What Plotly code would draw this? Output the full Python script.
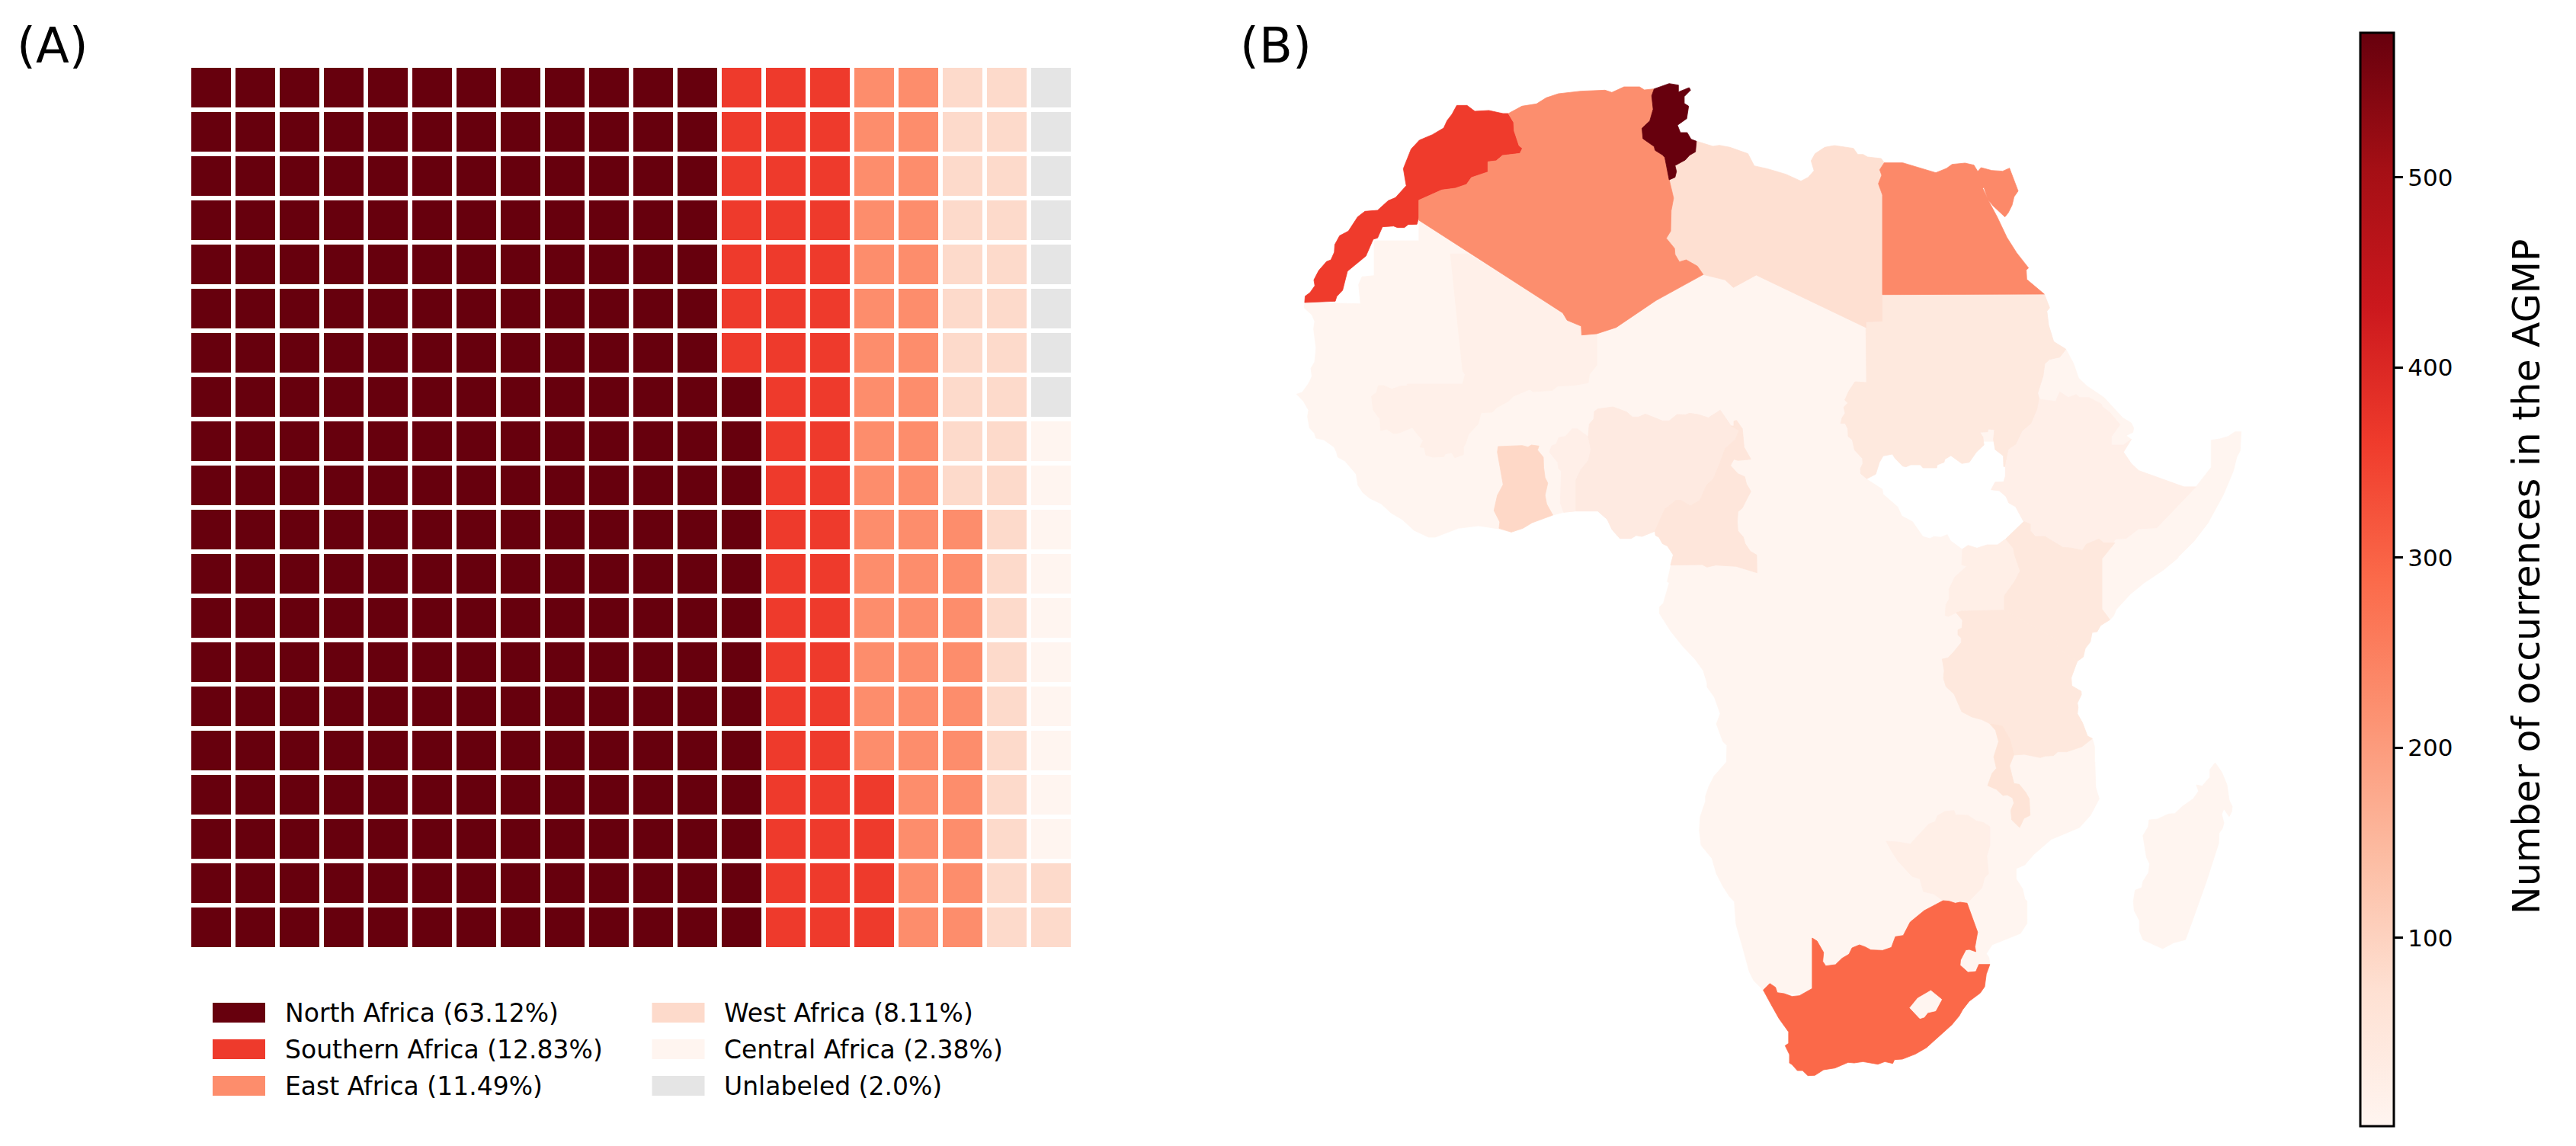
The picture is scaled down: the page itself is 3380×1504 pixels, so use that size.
import plotly.graph_objects as go
from plotly.colors import sequential, sample_colorscale

# ---------- waffle data ----------
REGIONS = ["North Africa", "Southern Africa", "East Africa", "West Africa", "Central Africa", "Unlabeled"]
REGION_SHARES = ["63.12%", "12.83%", "11.49%", "8.11%", "2.38%", "2.0%"]
REGION_CELLS = [253, 51, 46, 32, 10, 8]
REGION_COLORS = ["#67000d", "#ee3a2c", "#fd8d6c", "#fddacb", "#fff5f0", "#e5e5e5"]
GRID_SIZE = 20

FRAMES = {
    "Z1": (1650, 60, 1.568, 3), "Z2": (1650, 500, 1.568, 3), "Z3": (2100, 950, 1.742, 3),
    "Z7": (1650, 380, 2.24, 3), "Z8": (2350, 380, 2.24, 3), "Z9": (2450, 680, 3, 3), "Z10": (2430, 170, 3, 3),
}
def read(frame, pts):
    x0, y0, fx, fy = FRAMES[frame]
    return [(x0 + a / fx, y0 + b / fy) for a, b in pts]

TUNISIA = read("Z1", [(816,170),(847,149),(866,155),(866,182),(888,165),(891,175),(878,200),(878,227),(887,238),(883,287),(864,313),(870,342),(884,342),(892,368),(903,376),(901,418),(889,431),(880,450),(859,472),(862,495),(859,518),(847,528),(838,440),(833,430),(818,412),(816,397),(793,366),(791,325),(807,296),(814,250),(811,197)])
MOROCCO = read("Z1", [(410,235),(431,235),(447,258),(476,255),(505,267),(516,267),(527,302),(528,335),(538,393),(545,404),(540,424),(504,432),(491,453),(474,457),(474,497),(440,519),(430,546),(407,561),(379,568),(332,608),(332,675),(328,703),(310,704),(302,716),(288,716),(280,710),(257,713),(247,757),(238,762),(223,828),(185,888),(175,963),(163,987),(160,1006),(97,1011),(98,986),(108,972),(118,945),(116,922),(126,885),(142,850),(151,843),(158,813),(159,783),(169,748),(187,730),(206,674),(221,652),(247,648),(269,610),(284,598),(306,551),(300,484),(308,447),(316,407),(333,372),(360,350),(383,324),(390,295),(400,270)])
ALGERIA = read("Z1", [(516,267),(544,238),(574,229),(594,205),(619,189),(665,179),(715,175),(729,184),(754,162),(786,162),(796,174),(816,170),(811,197),(814,250),(807,296),(791,325),(793,366),(816,397),(818,412),(833,430),(838,440),(847,528),(856,600),(851,650),(850,730),(841,758),(858,798),(859,822),(868,851),(882,843),(905,868),(917,901),(820,1003),(738,1109),(698,1134),(667,1139),(666,1104),(637,1081),(628,1052),(332,687),(332,608),(379,568),(407,561),(430,546),(440,519),(474,497),(474,457),(491,453),(504,432),(540,424),(545,404),(538,393),(528,335),(527,302)])
LIBYA = read("Z1", [(903,376),(937,396),(950,392),(972,400),(1009,425),(1022,473),(1050,485),(1087,506),(1118,533),(1133,518),(1145,492),(1139,453),(1147,425),(1167,400),(1187,393),(1226,404),(1235,428),(1246,428),(1255,438),(1283,444),(1290,462),(1279,488),(1284,510),(1278,545),(1285,590),(1285,1085),(1252,1087),(1252,1110),(1026,903),(979,952),(962,922),(917,901),(905,868),(882,843),(868,851),(859,822),(858,798),(841,758),(850,730),(851,650),(856,600),(847,528),(859,518),(862,495),(859,472),(880,450),(889,431),(901,418)])
EGYPT = read("Z10", [(120,650),(120,258),(104,213),(117,180),(109,158),(127,131),(200,131),(330,170),(372,153),(394,137),(445,132),(480,140),(495,165),(508,150),(550,161),(593,164),(620,152),(654,242),(638,265),(630,298),(615,328),(602,344),(555,300),(535,275),(519,227),(515,232),(540,285),(572,345),(610,425),(648,485),(695,545),(686,553),(688,590),(757,648)])
SUDAN = read("Z8", [(268,20),(745,20),(760,72),(752,85),(757,140),(772,205),(808,235),(790,266),(760,275),(746,292),(741,340),(725,408),(730,432),(725,470),(707,527),(681,557),(662,610),(640,630),(630,697),(625,697),(624,655),(600,630),(595,590),(598,552),(580,549),(578,560),(555,562),(564,580),(567,612),(545,640),(524,680),(502,685),(470,654),(452,668),(450,680),(430,690),(428,702),(388,702),(380,690),(352,690),(338,698),(328,695),(306,665),(298,648),(271,655),(260,680),(249,727),(223,745),(205,725),(204,705),(211,685),(210,665),(187,632),(180,592),(168,578),(167,548),(159,527),(146,527),(150,505),(159,487),(155,463),(167,447),(158,435),(170,400),(188,363),(222,366),(220,127),(268,127)])
SOUTH_SUDAN = read("Z8", [(223,745),(300,600),(640,600),(630,697),(630,735),(625,757),(600,758),(588,788),(612,792),(632,815),(640,840),(660,855),(683,912),(633,980),(607,1005),(578,1005),(547,1018),(520,1007),(503,1020),(470,988),(460,962),(440,973),(420,970),(408,978),(388,970),(358,912),(327,890),(315,855),(272,805),(270,785)])
ETHIOPIA = read("Z8", [(730,432),(778,440),(790,403),(815,425),(838,413),(848,425),(876,425),(912,450),(916,462),(938,485),(967,532),(942,578),(942,612),(977,612),(1000,590),(977,640),(1000,685),(1022,713),(1155,777),(1190,777),(1075,938),(1022,942),(985,980),(955,982),(945,998),(920,998),(905,982),(870,1003),(857,1027),(800,1017),(750,972),(720,970),(703,950),(703,920),(683,912),(660,855),(640,840),(632,815),(612,792),(588,788),(600,758),(625,757),(630,735),(630,697),(640,630),(662,610),(681,557),(707,527),(725,470)])
KENYA = read("Z9", [(545,82),(617,13),(642,23),(642,50),(662,72),(700,72),(770,115),(800,117),(847,127),(862,103),(912,82),(930,97),(975,97),(924,160),(924,358),(955,400),(918,423),(905,447),(885,450),(878,487),(858,513),(850,547),(827,563),(748,510),(745,478),(540,362),(540,305),(580,250),(602,208),(580,145),(575,118)])
UGANDA = read("Z9", [(375,122),(397,107),(432,118),(472,105),(513,105),(545,82),(575,118),(580,145),(602,208),(580,250),(540,305),(540,362),(370,366),(350,372),(320,387),(307,383),(310,340),(322,320),(322,280),(345,232),(392,190),(372,183)])
TANZANIA = read("Z9", [(350,372),(370,366),(540,362),(745,478),(748,510),(827,563),(803,628),(805,660),(842,682),(843,695),(827,728),(830,745),(827,770),(847,805),(867,858),(886,868),(845,900),(785,920),(750,920),(733,935),(700,937),(682,943),(618,930),(575,933),(562,870),(530,818),(505,816),(480,808),(450,793),(412,783),(372,762),(342,693),(310,663),(300,630),(303,600),(295,555),(318,550),(340,527),(370,490),(370,472),(357,460),(357,440),(373,432),(375,402)])
MALAWI = read("Z3", [(890,0),(918,8),(936,60),(945,122),(935,165),(945,235),(957,238),(972,270),(980,295),(982,360),(968,372),(958,408),(940,378),(938,340),(945,312),(942,292),(930,280),(920,282),(905,258),(885,243),(895,195),(905,175),(899,130),(910,70),(903,25)])
ZIMBABWE = read("Z3", [(653,462),(680,465),(708,473),(750,395),(765,385),(770,362),(787,345),(808,341),(812,358),(840,360),(860,383),(875,388),(890,405),(890,480),(883,520),(887,590),(878,605),(872,645),(838,706),(822,702),(811,706),(797,698),(783,696),(762,670),(738,660),(730,610),(712,600),(680,540),(665,500)])
SOUTH_AFRICA = read("Z3", [(372,1048),(387,1022),(400,1037),(404,1058),(420,1062),(438,1073),(455,1070),(484,1042),(484,843),(495,855),(510,900),(508,935),(515,953),(537,948),(552,923),(568,907),(575,882),(592,870),(605,878),(618,890),(645,892),(665,880),(674,838),(692,833),(708,780),(740,735),(783,696),(797,698),(811,706),(822,702),(838,706),(862,820),(856,878),(858,897),(843,888),(835,890),(823,930),(822,950),(840,978),(858,975),(865,947),(890,947),(882,985),(878,1035),(868,1060),(843,1092),(828,1125),(820,1150),(803,1185),(770,1235),(745,1275),(720,1300),(690,1320),(672,1322),(668,1337),(650,1330),(634,1340),(600,1330),(580,1335),(566,1333),(536,1355),(510,1362),(490,1384),(474,1385),(462,1365),(450,1365),(438,1342),(432,1335),(432,1302),(422,1267),(430,1258),(430,1213),(408,1160),(390,1105)])
LESOTHO = read("Z3", [(755,1050),(780,1085),(766,1130),(748,1137),(740,1155),(730,1160),(707,1118),(725,1080)])
MADAGASCAR = read("Z3", [(1405,153),(1420,190),(1432,240),(1437,300),(1444,325),(1443,345),(1437,365),(1425,335),(1420,355),(1425,390),(1422,410),(1414,430),(1413,470),(1385,620),(1352,780),(1337,850),(1310,862),(1285,885),(1240,850),(1232,815),(1232,775),(1220,735),(1218,700),(1222,655),(1237,645),(1240,620),(1253,585),(1255,550),(1248,525),(1240,440),(1252,405),(1254,378),(1273,375),(1298,355),(1313,353),(1330,325),(1355,295),(1367,265),(1362,240),(1375,245),(1393,210),(1393,180)])
GHANA = read("Z7", [(707,618),(778,614),(795,620),(805,612),(827,616),(823,632),(840,660),(841,700),(845,740),(853,762),(845,810),(850,845),(868,888),(807,918),(780,940),(746,955),(710,940),(712,915),(695,870),(705,810),(722,768),(712,690),(705,640)])
BENIN = read("Z7", [(858,640),(865,615),(878,608),(885,583),(905,578),(925,548),(940,548),(972,580),(980,628),(973,672),(950,710),(936,750),(936,872),(900,877),(890,840),(893,715),(885,705),(882,680)])
NIGERIA = read("Z7", [(1000,470),(1045,462),(1085,482),(1102,502),(1120,502),(1140,490),(1190,517),(1210,517),(1233,492),(1258,493),(1270,487),(1295,492),(1325,505),(1360,475),(1392,537),(1415,555),(1405,590),(1375,625),(1360,680),(1340,745),(1320,770),(1300,830),(1272,852),(1245,830),(1230,830),(1197,865),(1170,950),(1130,972),(1113,968),(1098,980),(1065,980),(1042,945),(1028,905),(1000,872),(936,872),(936,750),(950,710),(973,672),(980,628),(972,580),(975,530),(988,510),(990,480)])
CAMEROON = read("Z7", [(1392,537),(1400,537),(1400,518),(1408,515),(1425,548),(1430,620),(1450,668),(1425,670),(1412,673),(1400,668),(1390,693),(1412,725),(1432,737),(1437,765),(1450,795),(1440,820),(1425,860),(1412,875),(1410,915),(1412,950),(1428,975),(1433,1000),(1448,1030),(1467,1045),(1468,1115),(1407,1090),(1347,1085),(1321,1093),(1307,1083),(1214,1085),(1222,1045),(1205,1010),(1190,1000),(1180,975),(1170,968),(1168,952),(1197,865),(1230,830),(1245,830),(1272,852),(1300,830),(1320,770),(1340,745),(1360,680),(1375,625),(1405,590),(1415,555)])
MALI = read("Z1", [(397,820),(433,820)]) + read("Z7", [(790,0),(898,93),(908,120),(952,145),(952,178),(997,173),(997,298),(975,335),(972,367),(930,377),(882,380),(867,397),(810,402),(800,393),(752,420),(737,440),(703,465),(690,483),(657,485),(648,530),(620,570),(612,605),(605,620),(605,650),(580,662),(570,642),(552,647),(548,658),(515,660),(495,652),(490,622),(477,620),(487,595),(470,570),(455,543),(415,565),(400,567),(380,550),(362,555),(360,510),(340,475),(335,420),(350,405),(355,378),(370,378),(395,392),(420,380),(440,380),(440,372),(603,372),(610,335),(603,320),(578,0)])
# everything else on the continent sits at the bottom of the scale
REST_OF_AFRICA = (
    read("Z1", [(97,1012),(212,1016),(208,940),(215,910),(240,905),(240,768),(332,768),(332,687),(1000,700)])
    + read("Z8", [(745,20),(760,72),(752,85),(757,140),(772,205),(808,235),(830,290),(845,348),(870,380),(920,425),(975,505),(1000,525),(1007,545),(1005,562),(985,575),(1000,590),(977,640),(1000,685),(1022,713),(1155,777),(1190,777),(1235,700),(1235,593),(1260,588),(1285,578),(1305,560),(1323,560),(1320,635),(1310,660),(1300,715),(1270,810),(1225,920),(1185,990),(1140,1050),(1115,1080)])
    + read("Z9", [(1225,155),(1165,205),(1090,255),(1035,300),(980,360),(970,385),(955,400),(918,423),(905,447),(885,450),(878,487),(858,513),(850,547),(827,563),(803,628),(805,660),(842,682),(843,695),(827,728),(830,745),(827,770),(847,805),(867,858),(886,868),(895,900),(895,960)])
    + read("Z3", [(1130,150),(1132,250),(1140,295),(1120,360),(1095,408),(1030,455),(990,515),(970,555),(950,570),(950,610),(965,650),(970,690),(975,698),(975,770),(975,785),(960,825),(895,870),(882,905),(888,920),(890,947),(800,1000),(600,1100),(372,1048),(350,1010),(340,975),(325,880),(310,790),(306,700),(295,680),(280,640),(265,590),(255,530),(230,478),(226,420),(228,365),(240,305),(240,285),(248,245),(260,205),(288,150),(289,85),(280,70),(265,0)])
    + read("Z2", [(952,1310),(940,1245),(925,1205),(925,1190),(917,1140),(900,1095),(875,1045),(850,985),(827,915),(827,890),(835,875),(847,795),(843,790),(850,725)])
    + read("Z7", [(1222,1045),(1205,1010),(1190,1000),(1180,975),(1170,968),(1168,952),(1130,972),(1113,968),(1098,980),(1065,980),(1042,945),(1028,905),(1000,872),(935,872),(900,877),(868,888),(807,918),(780,940),(746,955),(708,942),(670,933),(650,930),(590,940),(522,975),(503,975),(460,948),(425,905),(393,880),(363,843),(330,822),(310,800),(295,770),(290,727),(257,675),(236,660),(232,640),(225,620),(195,592),(172,585),(167,565),(153,545),(147,500),(150,475),(135,440),(115,412),(131,405),(150,370),(160,342),(157,310),(168,285),(172,230),(165,155),(168,125),(160,100),(137,72)])
)

COUNTRY_NAMES = ["Rest of Africa", "Madagascar", "Mali", "Sudan", "Ethiopia", "Uganda", "Kenya", "Tanzania", "Malawi", "Zimbabwe",
                 "South Africa", "Lesotho", "Ghana", "Benin", "Nigeria", "Cameroon", "Libya", "Egypt", "Morocco", "Algeria", "Tunisia"]
COUNTRY_SHAPES = [REST_OF_AFRICA, MADAGASCAR, MALI, SUDAN, ETHIOPIA, UGANDA, KENYA, TANZANIA, MALAWI, ZIMBABWE,
                  SOUTH_AFRICA, LESOTHO, GHANA, BENIN, NIGERIA, CAMEROON, LIBYA, EGYPT, MOROCCO, ALGERIA, TUNISIA]
COUNTRY_VALUES = [1, 1, 18, 43, 20, 22, 47, 47, 60, 22, 290, 1, 89, 20, 38, 52, 72, 232, 361, 224, 576]
NO_DATA_SHAPES = [SOUTH_SUDAN]
VALUE_MIN, VALUE_MAX = 1, 576
BAR_TICKS = [100, 200, 300, 400, 500]
BAR_TITLE = "Number of occurrences in the AGMP"
PANEL_LABELS = ["(A)", "(B)"]

W, H = 3380, 1504
FONT = "DejaVu Sans"
REDS = sequential.Reds

def colour_of(v):
    return sample_colorscale(REDS, [(v - VALUE_MIN) / (VALUE_MAX - VALUE_MIN)], colortype="rgb")[0]

fig = go.Figure()

# ---------- panel B: map ----------
def add_region(pts, colour, name):
    xs = [p[0] for p in pts] + [pts[0][0]]
    ys = [p[1] for p in pts] + [pts[0][1]]
    fig.add_trace(go.Scatter(x=xs, y=ys, mode="lines", fill="toself", fillcolor=colour,
                             line=dict(color=colour, width=0.8), name=name, showlegend=False,
                             hoverinfo="name", xaxis="x2", yaxis="y2"))

add_region(COUNTRY_SHAPES[0], colour_of(COUNTRY_VALUES[0]), COUNTRY_NAMES[0])
for s in NO_DATA_SHAPES:
    add_region(s, "#ffffff", "No data")
for nm, s, v in list(zip(COUNTRY_NAMES, COUNTRY_SHAPES, COUNTRY_VALUES))[1:]:
    add_region(s, colour_of(v), nm)

fig.add_trace(go.Scatter(
    x=[s[0][0] for s in COUNTRY_SHAPES], y=[s[0][1] for s in COUNTRY_SHAPES], mode="markers",
    marker=dict(size=1, opacity=0, color=COUNTRY_VALUES, cmin=VALUE_MIN, cmax=VALUE_MAX, colorscale=REDS,
                colorbar=dict(x=3097 / W, xanchor="left", xpad=0, y=1 - 43 / H, yanchor="top", ypad=0,
                              thicknessmode="pixels", thickness=44, lenmode="pixels", len=1435,
                              outlinewidth=3, outlinecolor="black", tickmode="array", tickvals=BAR_TICKS,
                              ticks="outside", ticklen=11, tickwidth=2.5, tickcolor="black",
                              tickfont=dict(family=FONT, size=31, color="black"))),
    showlegend=False, hoverinfo="skip", xaxis="x2", yaxis="y2"))

# ---------- panel A: waffle ----------
grid = [[0] * GRID_SIZE for _ in range(GRID_SIZE)]
sequence = [i for i, n in enumerate(REGION_CELLS) for _ in range(n)]
for k, region in enumerate(sequence):
    col, row = k // GRID_SIZE, GRID_SIZE - 1 - k % GRID_SIZE
    grid[row][col] = region
n = len(REGIONS)
steps = []
for i, c in enumerate(REGION_COLORS):
    steps += [[i / n, c], [(i + 1) / n, c]]
fig.add_trace(go.Heatmap(z=grid, x=list(range(GRID_SIZE)), y=list(range(GRID_SIZE)),
                         colorscale=steps, zmin=-0.5, zmax=n - 0.5, showscale=False,
                         xgap=6, ygap=6, hoverinfo="skip", xaxis="x", yaxis="y"))

# ---------- layout helpers (positions in figure pixels via the overlay axes) ----------
shapes, notes = [], []
for i, (name, share, colour) in enumerate(zip(REGIONS, REGION_SHARES, REGION_COLORS)):
    cx = [279, 855.5][i // 3]
    tx = [372, 948][i // 3]
    top = 1316 + 48 * (i % 3)
    shapes.append(dict(type="rect", xref="x2", yref="y2", x0=cx, x1=cx + 69, y0=top, y1=top + 26,
                       fillcolor=colour, line=dict(width=0), layer="above"))
    notes.append(dict(x=tx, y=top + 13, xref="x2", yref="y2", text=f"{name} ({share})", showarrow=False,
                      xanchor="left", yanchor="middle", font=dict(family=FONT, size=33, color="black")))
for label, lx in zip(PANEL_LABELS, [20, 1625]):
    notes.append(dict(x=lx, y=60, xref="x2", yref="y2", text=label, showarrow=False, xanchor="left",
                      yanchor="middle", font=dict(family=FONT, size=64, color="black")))
notes.append(dict(x=3315, y=757, xref="x2", yref="y2", text=BAR_TITLE, textangle=-90, showarrow=False,
                  xanchor="center", yanchor="middle", font=dict(family=FONT, size=49, color="black")))

hidden = dict(visible=False, showgrid=False, zeroline=False)
fig.update_layout(
    width=W, height=H, margin=dict(l=0, r=0, t=0, b=0), paper_bgcolor="white", plot_bgcolor="rgba(0,0,0,0)",
    showlegend=False, shapes=shapes, annotations=notes,
    xaxis=dict(domain=[248 / W, 1408 / W], range=[-0.5, GRID_SIZE - 0.5], **hidden),
    yaxis=dict(domain=[1 - 1246 / H, 1 - 86 / H], range=[GRID_SIZE - 0.5, -0.5], **hidden),
    xaxis2=dict(domain=[0, 1], range=[0, W], **hidden),
    yaxis2=dict(domain=[0, 1], range=[H, 0], **hidden),
)
fig.write_html("out.html", config={"displayModeBar": False}, post_script="document.body.style.margin='0';")
